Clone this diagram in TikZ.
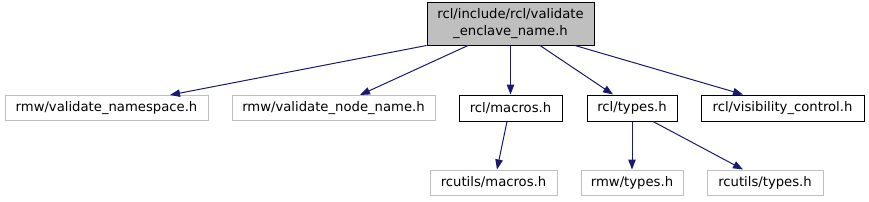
\documentclass[tikz,border=0pt]{standalone}
\usepackage{fontspec}
\setmainfont{DejaVu Sans}
\usetikzlibrary{arrows.meta,positioning}
\definecolor{edgeblue}{RGB}{25,25,112}
\definecolor{boxgray}{RGB}{191,191,191}
\tikzset{
  file/.style={draw=black, fill=white, line width=1pt, minimum height=26pt,
    inner sep=0pt, font=\fontsize{13.2}{17}\selectfont},
  extfile/.style={file, draw=boxgray, minimum height=25pt},
  mainfile/.style={file, fill=boxgray, minimum height=43pt, align=center},
  dep/.style={edgeblue, line width=1pt, -{Triangle[length=10pt,width=7.5pt]}}
}

\begin{document}
\begin{tikzpicture}[x=1pt, y=-1pt]
  \useasboundingbox (0,0) rectangle (869,201);
  % included file
  \node[mainfile, minimum width=167pt] (root) at (510.5,23.5) {rcl/include/rcl/validate\\\_enclave\_name.h};
  % first level
  \node[extfile, minimum width=203pt] (ns) at (106.5,108) {rmw/validate\_namespace.h};
  \node[extfile, minimum width=203pt] (nn) at (333.5,108) {rmw/validate\_node\_name.h};
  \node[file, minimum width=103pt] (mac) at (510.5,108) {rcl/macros.h};
  \node[file, minimum width=90pt] (typ) at (632,108) {rcl/types.h};
  \node[file, minimum width=163pt] (vis) at (782.5,108) {rcl/visibility\_control.h};
  % second level
  \node[extfile, minimum width=127pt] (cmac) at (493.5,182.5) {rcutils/macros.h};
  \node[extfile, minimum width=102pt] (rtyp) at (632,182.5) {rmw/types.h};
  \node[extfile, minimum width=116pt] (ctyp) at (765,182.5) {rcutils/types.h};

  \draw[dep] (root.south west) -- ([xshift=63.5pt]ns.north);
  \draw[dep] ([xshift=-42.5pt]root.south) -- ([xshift=26.5pt]nn.north);
  \draw[dep] (root.south) -- (mac.north);
  \draw[dep] ([xshift=29.5pt]root.south) -- ([xshift=-19pt]typ.north);
  \draw[dep] ([xshift=64.5pt]root.south) -- ([xshift=-39.5pt]vis.north);
  \draw[dep] ([xshift=-3.5pt]mac.south) -- ([xshift=3.5pt]cmac.north);
  \draw[dep] (typ.south) -- (rtyp.north);
  \draw[dep] ([xshift=21pt]typ.south) -- ([xshift=-22pt]ctyp.north);
\end{tikzpicture}
\end{document}
